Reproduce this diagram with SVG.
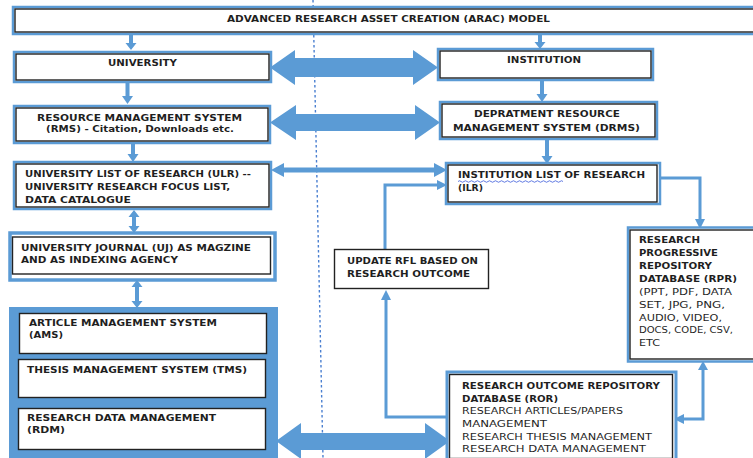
<svg xmlns="http://www.w3.org/2000/svg" width="753" height="458" viewBox="0 0 753 458">
<style>
.bl{fill:#fff;stroke:#5b9bd5;stroke-width:2.5}
.bk{fill:none;stroke:#222;stroke-width:1.4}
.wb{fill:#fff;stroke:#222;stroke-width:1.4}
.ar{fill:#5b9bd5;stroke:none}
.ln{fill:none;stroke:#5b9bd5;stroke-width:3}
text{font-family:"DejaVu Sans","Liberation Sans",sans-serif;font-size:9.5px;fill:#1f1f1f;font-weight:bold}
.r{font-weight:normal}
</style>
<rect x="0" y="0" width="753" height="458" fill="#fff"/>
<line x1="313" y1="0" x2="323" y2="458" stroke="#4a7fd0" stroke-width="1.4" stroke-dasharray="2.5,2.5"/>
<g id="connectors">
<polygon class="ar" points="129,33 133,33 133,43 136.5,43 131,50 125.5,43 129,43"/>
<polygon class="ar" points="125.5,82 129.5,82 129.5,96 133,96 127.5,104 122,96 125.5,96"/>
<polygon class="ar" points="131,143 135,143 135,154 138.5,154 133,162 127.5,154 131,154"/>
<polygon class="ar" points="538,33 542,33 542,42 545.5,42 540,49 534.5,42 538,42"/>
<polygon class="ar" points="540,80 544,80 544,94 547.5,94 542,102 536.5,94 540,94"/>
<polygon class="ar" points="545,140 549,140 549,156 552.5,156 547,164 541.5,156 545,156"/>
<polygon class="ar" points="134,210 139.5,217 136,217 136,226 139.5,226 134,233 128.5,226 132,226 132,217 128.5,217"/>
<polygon class="ar" points="137,280 142.5,287 139,287 139,301 142.5,301 137,308 131.5,301 135,301 135,287 131.5,287"/>
<polygon class="ar" points="270,67.5 295,50 295,58 413,58 413,50 438,67.5 413,85 413,77 295,77 295,85"/>
<polygon class="ar" points="270,122.5 296,105 296,114 415,114 415,105 440,122.5 415,140 415,131 296,131 296,140"/>
<polygon class="ar" points="276,441 301,423 301,433 425,433 425,423 450,441 425,459 425,450 301,450 301,459"/>
<polygon class="ar" points="271,170 284,163 284,167.5 434,167.5 434,163 447,170 434,177 434,172.5 284,172.5 284,177"/>
<polyline class="ln" points="385,250 385,185 438,185"/>
<polygon class="ar" points="437,180 447,185 437,190"/>
<polyline class="ln" points="449,417 386,417 386,299"/>
<polygon class="ar" points="381,300 391,300 386,290"/>
<polyline class="ln" points="657,178 700,178 700,220"/>
<polygon class="ar" points="695,219 705,219 700,229"/>
<polyline class="ln" points="703,369 703,419 683,419"/>
<polygon class="ar" points="698,370 708,370 703,361"/>
<polygon class="ar" points="684,414 674,419 684,424"/>
</g>
<g id="title">
<rect class="bl" x="13" y="7" width="750" height="27"/>
<rect class="bk" x="15" y="9" width="750" height="23"/>
<text x="227" y="22" textLength="323" lengthAdjust="spacingAndGlyphs">ADVANCED RESEARCH ASSET CREATION (ARAC) MODEL</text>
</g>
<g id="university">
<rect class="bl" x="14" y="52" width="257" height="30"/>
<rect class="bk" x="16" y="54" width="253" height="26"/>
<text x="108" y="66" textLength="69" lengthAdjust="spacingAndGlyphs">UNIVERSITY</text>
</g>
<g id="institution">
<rect class="bl" x="438" y="49" width="215" height="31"/>
<rect class="bk" x="440" y="51" width="211" height="27"/>
<text x="507" y="63" textLength="74" lengthAdjust="spacingAndGlyphs">INSTITUTION</text>
</g>
<g id="rms">
<rect class="bl" x="14" y="106" width="256" height="37"/>
<rect class="bk" x="16" y="108" width="252" height="33"/>
<text x="37" y="121" textLength="205" lengthAdjust="spacingAndGlyphs">RESOURCE MANAGEMENT SYSTEM</text>
<text x="46" y="132" textLength="188" lengthAdjust="spacingAndGlyphs">(RMS) - Citation, Downloads etc.</text>
</g>
<g id="drms">
<rect class="bl" x="440" y="102" width="217" height="37"/>
<rect class="bk" x="442" y="104" width="213" height="33"/>
<text x="474" y="117" textLength="146" lengthAdjust="spacingAndGlyphs">DEPRATMENT RESOURCE</text>
<text x="453" y="131" textLength="187" lengthAdjust="spacingAndGlyphs">MANAGEMENT SYSTEM (DRMS)</text>
</g>
<g id="ulr">
<rect class="bl" x="14" y="162" width="257" height="47"/>
<rect class="bk" x="16" y="164" width="253" height="43"/>
<text x="25" y="177" textLength="226" lengthAdjust="spacingAndGlyphs">UNIVERSITY LIST OF RESEARCH (ULR) --</text>
<text x="25" y="190" textLength="205" lengthAdjust="spacingAndGlyphs">UNIVERSITY RESEARCH FOCUS LIST,</text>
<text x="25" y="203" textLength="106" lengthAdjust="spacingAndGlyphs">DATA CATALOGUE</text>
</g>
<g id="ilr">
<rect class="bl" x="446" y="163" width="214" height="41"/>
<rect class="bk" x="448" y="165" width="209" height="37"/>
<text x="458" y="178" textLength="187" lengthAdjust="spacingAndGlyphs">INSTITUTION  LIST OF RESEARCH</text>
<text x="458" y="191" textLength="25" lengthAdjust="spacingAndGlyphs">(ILR)</text>
<path d="M458,181.5 q1.5,-1.5 3,0 t3,0 t3,0 t3,0 t3,0 t3,0 t3,0 t3,0 t3,0 t3,0 t3,0 t3,0 t3,0 t3,0 t3,0 t3,0 t3,0 t3,0 t3,0 t3,0 t3,0 t3,0 t3,0 t3,0 t3,0 t3,0 t3,0 t3,0 t3,0 t3,0 t3,0 t3,0 t3,0 t3,0 t3,0" fill="none" stroke="#3b5bdb" stroke-width="0.8"/>
</g>
<g id="uj">
<rect x="10" y="233" width="265" height="47" fill="#fff" stroke="#5b9bd5" stroke-width="3.5"/>
<rect class="bk" x="12.5" y="237" width="258" height="37"/>
<text x="21" y="251" textLength="230" lengthAdjust="spacingAndGlyphs">UNIVERSITY JOURNAL (UJ) AS MAGZINE</text>
<text x="21" y="263" textLength="157" lengthAdjust="spacingAndGlyphs">AND AS INDEXING AGENCY</text>
</g>
<g id="update-rfl">
<rect class="wb" x="334.5" y="249.5" width="154" height="39"/>
<text x="347" y="264" textLength="131" lengthAdjust="spacingAndGlyphs">UPDATE RFL BASED ON</text>
<text x="347" y="277" textLength="123" lengthAdjust="spacingAndGlyphs">RESEARCH OUTCOME</text>
</g>
<g id="rpr">
<rect class="bl" x="628" y="227.5" width="135" height="134"/>
<rect class="bk" x="630" y="230" width="135" height="129"/>
<text x="639" y="243" textLength="61" lengthAdjust="spacingAndGlyphs">RESEARCH</text>
<text x="639" y="256" textLength="79" lengthAdjust="spacingAndGlyphs">PROGRESSIVE</text>
<text x="639" y="269" textLength="73" lengthAdjust="spacingAndGlyphs">REPOSITORY</text>
<text x="639" y="282" textLength="98" lengthAdjust="spacingAndGlyphs">DATABASE (RPR)</text>
<text class="r" x="639" y="295" textLength="93" lengthAdjust="spacingAndGlyphs">(PPT, PDF, DATA</text>
<text class="r" x="639" y="308" textLength="86" lengthAdjust="spacingAndGlyphs">SET, JPG, PNG,</text>
<text class="r" x="639" y="321" textLength="83" lengthAdjust="spacingAndGlyphs">AUDIO, VIDEO,</text>
<text class="r" x="639" y="333" textLength="94" lengthAdjust="spacingAndGlyphs">DOCS, CODE, CSV,</text>
<text class="r" x="639" y="346" textLength="21" lengthAdjust="spacingAndGlyphs">ETC</text>
</g>
<g id="ror">
<rect x="447" y="372" width="229" height="90" fill="#fff" stroke="#5b9bd5" stroke-width="3"/>
<rect class="bk" x="449.5" y="374.5" width="223" height="84"/>
<text x="462" y="389" textLength="198" lengthAdjust="spacingAndGlyphs">RESEARCH OUTCOME REPOSITORY</text>
<text x="462" y="402" textLength="96" lengthAdjust="spacingAndGlyphs">DATABASE (ROR)</text>
<text class="r" x="462" y="414" textLength="161" lengthAdjust="spacingAndGlyphs">RESEARCH ARTICLES/PAPERS</text>
<text class="r" x="462" y="427" textLength="85" lengthAdjust="spacingAndGlyphs">MANAGEMENT</text>
<text class="r" x="462" y="440" textLength="190" lengthAdjust="spacingAndGlyphs">RESEARCH THESIS MANAGEMENT</text>
<text class="r" x="462" y="452" textLength="184" lengthAdjust="spacingAndGlyphs">RESEARCH DATA MANAGEMENT</text>
</g>
<g id="systems">
<rect x="9" y="307" width="269" height="155" fill="#5b9bd5"/>
<g id="ams">
<rect class="wb" x="19.5" y="313.5" width="247" height="40"/>
<text x="29" y="326" textLength="188" lengthAdjust="spacingAndGlyphs">ARTICLE MANAGEMENT SYSTEM</text>
<text x="29" y="338" textLength="34" lengthAdjust="spacingAndGlyphs">(AMS)</text>
</g>
<g id="tms">
<rect class="wb" x="18.5" y="359.5" width="247" height="38"/>
<text x="27" y="373" textLength="220" lengthAdjust="spacingAndGlyphs">THESIS MANAGEMENT SYSTEM (TMS)</text>
</g>
<g id="rdm">
<rect class="wb" x="18.5" y="408.5" width="247" height="41"/>
<text x="27" y="421" textLength="189" lengthAdjust="spacingAndGlyphs">RESEARCH DATA MANAGEMENT</text>
<text x="27" y="433" textLength="38" lengthAdjust="spacingAndGlyphs">(RDM)</text>
</g>
</g>
</svg>
